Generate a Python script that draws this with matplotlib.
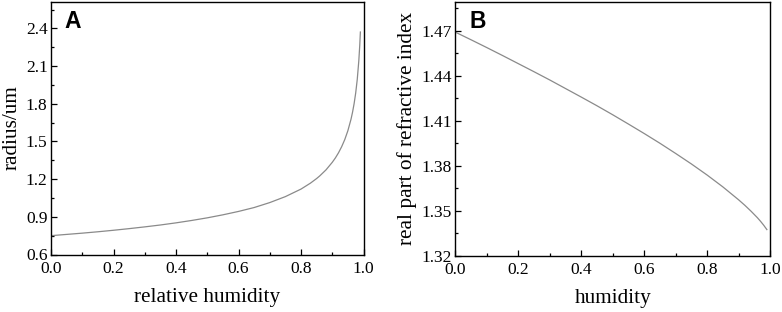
import matplotlib
matplotlib.use("Agg")
import matplotlib.pyplot as plt
from matplotlib.ticker import MultipleLocator, FormatStrFormatter

# Panel A: radius vs relative humidity
rh_a = [0.00, 0.05, 0.10, 0.15, 0.20, 0.25, 0.30, 0.35, 0.40, 0.45, 0.50, 0.55,
        0.60, 0.65, 0.70, 0.75, 0.80, 0.83, 0.85, 0.86, 0.88, 0.90, 0.91, 0.92,
        0.93, 0.94, 0.95, 0.96, 0.965, 0.97, 0.975, 0.98, 0.985, 0.988, 0.99]
radius = [0.750, 0.760, 0.770, 0.781, 0.793, 0.806, 0.820, 0.835, 0.852, 0.871,
          0.892, 0.916, 0.943, 0.974, 1.0135, 1.061, 1.121, 1.168, 1.205, 1.226,
          1.274, 1.334, 1.369, 1.410, 1.458, 1.515, 1.586, 1.677, 1.734, 1.802,
          1.886, 1.994, 2.143, 2.266, 2.372]

# Panel B: real part of refractive index vs humidity
rh_b = [0.00, 0.05, 0.10, 0.15, 0.20, 0.25, 0.30, 0.35, 0.40, 0.45, 0.50, 0.55,
        0.60, 0.65, 0.70, 0.75, 0.80, 0.85, 0.90, 0.92, 0.94, 0.96, 0.97, 0.98, 0.99]
n_real = [1.4690, 1.4639, 1.4587, 1.4534, 1.4480, 1.4426, 1.4371, 1.4314, 1.4257,
          1.4199, 1.4139, 1.4077, 1.4014, 1.3949, 1.3881, 1.3811, 1.3737, 1.3658,
          1.3572, 1.3535, 1.3495, 1.3452, 1.3428, 1.3402, 1.3373]

plt.rcParams['font.family'] = ['Liberation Serif', 'DejaVu Serif']
fig = plt.figure(figsize=(7.82, 3.12), dpi=100)

line_color = '#8a8a8a'

def style(ax):
    ax.tick_params(which='both', direction='in', top=False, right=False,
                   labelsize=12.5, width=0.9)
    ax.tick_params(axis='x', pad=4.5)
    ax.tick_params(axis='y', pad=2.5)
    ax.tick_params(which='major', length=4)
    ax.tick_params(which='minor', length=2.5)
    for s in ax.spines.values():
        s.set_linewidth(1.0)

axA = fig.add_axes([51/782, 1-254.5/312, (363.5-51)/782, (254.5-1.5)/312])
axA.plot(rh_a, radius, color=line_color, lw=0.9)
axA.set_xlim(0, 1.0)
axA.set_ylim(0.6, 2.615)
axA.xaxis.set_major_locator(MultipleLocator(0.2))
axA.xaxis.set_minor_locator(MultipleLocator(0.1))
axA.yaxis.set_major_locator(MultipleLocator(0.3))
axA.yaxis.set_minor_locator(MultipleLocator(0.15))
axA.xaxis.set_major_formatter(FormatStrFormatter('%.1f'))
axA.yaxis.set_major_formatter(FormatStrFormatter('%.1f'))
style(axA)
axA.set_xlabel('relative humidity', fontsize=15.3, labelpad=8)
axA.set_ylabel('radius/um', fontsize=15.3, labelpad=3)
axA.text(0.042, 0.968, 'A', transform=axA.transAxes, fontsize=16.5, fontweight='bold',
         family='Liberation Sans', va='top', ha='left')

axB = fig.add_axes([455.5/782, 1-255.5/312, (770-455.5)/782, (255.5-1.5)/312])
axB.plot(rh_b, n_real, color=line_color, lw=0.9)
axB.set_xlim(0, 1.0)
axB.set_ylim(1.32, 1.4895)
axB.xaxis.set_major_locator(MultipleLocator(0.2))
axB.xaxis.set_minor_locator(MultipleLocator(0.1))
axB.yaxis.set_major_locator(MultipleLocator(0.03))
axB.yaxis.set_minor_locator(MultipleLocator(0.015))
axB.xaxis.set_major_formatter(FormatStrFormatter('%.1f'))
axB.yaxis.set_major_formatter(FormatStrFormatter('%.2f'))
style(axB)
axB.set_xlabel('humidity', fontsize=15.3, labelpad=8)
axB.set_ylabel('real part of refractive index', fontsize=15.3, labelpad=3)
axB.text(0.043, 0.965, 'B', transform=axB.transAxes, fontsize=16.5, fontweight='bold',
         family='Liberation Sans', va='top', ha='left')

fig.savefig('out.png', dpi=100)
